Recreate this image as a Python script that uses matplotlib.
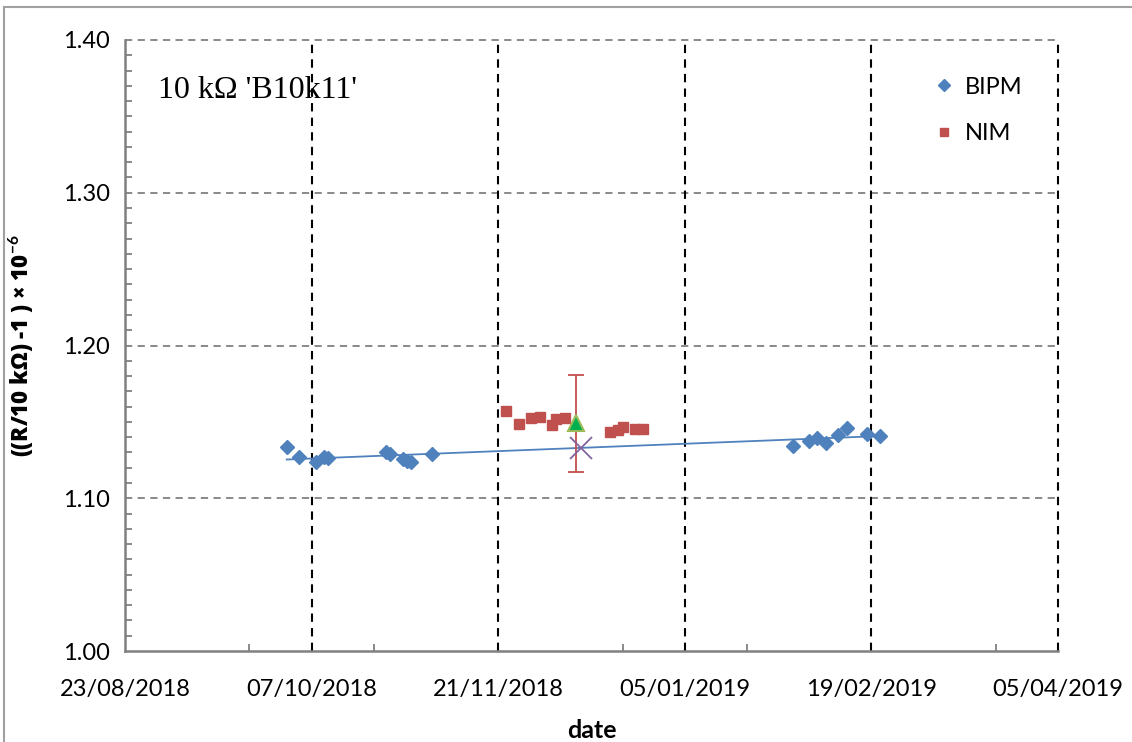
import numpy as np
import matplotlib
matplotlib.use("Agg")
import matplotlib.pyplot as plt
import matplotlib.dates as mdates
from matplotlib.patches import Rectangle
from datetime import datetime, timedelta

plt.rcParams["font.family"] = ["Lato", "DejaVu Sans"]
plt.rcParams["mathtext.fontset"] = "custom"
plt.rcParams["mathtext.rm"] = "Lato"
plt.rcParams["mathtext.bf"] = "Lato:bold"

# BIPM measurements
bipm_dates = ["01/10/2018", "04/10/2018", "08/10/2018", "10/10/2018", "11/10/2018",
              "25/10/2018", "26/10/2018", "29/10/2018", "30/10/2018", "31/10/2018",
              "05/11/2018", "31/01/2019", "04/02/2019", "06/02/2019", "08/02/2019",
              "11/02/2019", "13/02/2019", "18/02/2019", "21/02/2019"]
bipm_values = [1.1334, 1.1268, 1.1239, 1.1272, 1.1262,
               1.1301, 1.1288, 1.1257, 1.1244, 1.1237,
               1.1288, 1.1344, 1.1377, 1.1392, 1.1364,
               1.1414, 1.1458, 1.1421, 1.1409]

# NIM measurements
nim_dates = ["23/11/2018", "26/11/2018", "29/11/2018", "01/12/2018", "04/12/2018",
             "05/12/2018", "07/12/2018", "18/12/2018", "20/12/2018", "21/12/2018",
             "24/12/2018", "26/12/2018"]
nim_values = [1.1573, 1.1484, 1.1527, 1.1534, 1.1478,
              1.1517, 1.1527, 1.1436, 1.1447, 1.1464,
              1.1451, 1.1451]

# NIM mean with uncertainty, and BIPM fit at NIM mean date
nim_mean_date = "09/12/2018 17:00"
nim_mean_value = 1.1490
nim_mean_unc = 0.0317
bipm_at_nim_date = "11/12/2018"
bipm_at_nim_value = 1.1327

x_ticks = ["23/08/2018", "07/10/2018", "21/11/2018", "05/01/2019", "19/02/2019", "05/04/2019"]


def to_date(s):
    fmt = "%d/%m/%Y %H:%M" if ":" in s else "%d/%m/%Y"
    return datetime.strptime(s, fmt)


bx = [to_date(d) for d in bipm_dates]
nx = [to_date(d) for d in nim_dates]
tx = [to_date(d) for d in x_ticks]

fig = plt.figure(figsize=(11.32, 7.42), dpi=100)
ax = fig.add_axes([125 / 1132, 1 - 651 / 742, (1058 - 125) / 1132, (651 - 40) / 742])

# outer chart border
fig.patches.append(Rectangle((4 / 1132, -0.05), 1.1, 1 - 7 / 742 + 0.05, transform=fig.transFigure,
                             fill=False, edgecolor="#a0a0a0", linewidth=1.5))

# linear fit of BIPM data
bnum = mdates.date2num(bx)
coef = np.polyfit(bnum, bipm_values, 1)
fit_x = np.array([bnum.min(), bnum.max()])
ax.plot(mdates.num2date(fit_x), np.polyval(coef, fit_x), color="#4F81BD", lw=1.3, zorder=3)

ax.plot(bx, bipm_values, "D", color="#4F81BD", ms=7.5, mec="#4F81BD", label="BIPM", zorder=4,
        linestyle="none")
ax.plot(nx, nim_values, "s", color="#C0504D", ms=7, label="NIM", zorder=4, linestyle="none")

ax.errorbar([to_date(nim_mean_date)], [nim_mean_value], yerr=[nim_mean_unc], fmt="none",
            ecolor="#C0504D", elinewidth=1.3, capsize=5.5, capthick=1.3, zorder=4)
ax.plot([to_date(nim_mean_date)], [nim_mean_value], "^", color="#00B050", mec="#9BBB59",
        mew=1.5, ms=12, zorder=5)
ax.plot([to_date(bipm_at_nim_date)], [bipm_at_nim_value], "x", color="#8064A2",
        ms=16, mew=1.3, zorder=5)

ax.set_xlim(tx[0], tx[-1])
ax.set_ylim(1.00, 1.40)
ax.set_xticks(tx)
ax.set_xticklabels(x_ticks, fontsize=17)
ax.set_xticks([tx[0] + timedelta(days=30 * k) for k in range(1, 8)], minor=True)
ax.set_yticks(np.arange(1.0, 1.41, 0.1))
ax.set_yticklabels([f"{v:.2f}" for v in np.arange(1.0, 1.41, 0.1)], fontsize=17)
ax.set_yticks(np.arange(1.0, 1.40, 0.01), minor=True)

ax.tick_params(axis="both", which="major", length=0)
ax.tick_params(axis="y", which="major", pad=11)
ax.tick_params(axis="x", which="major", pad=20)
ax.tick_params(axis="both", which="minor", direction="in", length=5, color="#808080", width=1.3)

for s in ["top", "right"]:
    ax.spines[s].set_visible(False)
for s in ["left", "bottom"]:
    ax.spines[s].set_color("#808080")
    ax.spines[s].set_linewidth(1.8)

for v in [1.10, 1.20, 1.30, 1.40]:
    ax.axhline(v, color="#808080", lw=1.3, ls=(0, (4, 3)), zorder=1, clip_on=False)
for t in tx[1:]:
    ax.axvline(t, color="black", lw=1.5, ls=(0, (4, 3)), zorder=1, clip_on=False)

ax.text(0.035, 0.905, "10 k\u03a9 'B10k11'", transform=ax.transAxes, fontsize=23,
        family=["Liberation Serif", "DejaVu Serif"])

ax.set_xlabel("date", fontsize=18, fontweight="bold", labelpad=14)
ax.set_ylabel("((R/10 k\u03a9) -1 ) \u00d7 10$^{\\mathbf{-6}}$", fontsize=16, fontweight="heavy",
              labelpad=19, family=["Open Sans", "DejaVu Sans"])

ax.legend(loc="upper right", bbox_to_anchor=(0.985, 0.975), frameon=False, fontsize=17,
          handletextpad=0.3, labelspacing=1.1, markerscale=0.8, handlelength=1.2)

fig.savefig("out.png", dpi=100)
